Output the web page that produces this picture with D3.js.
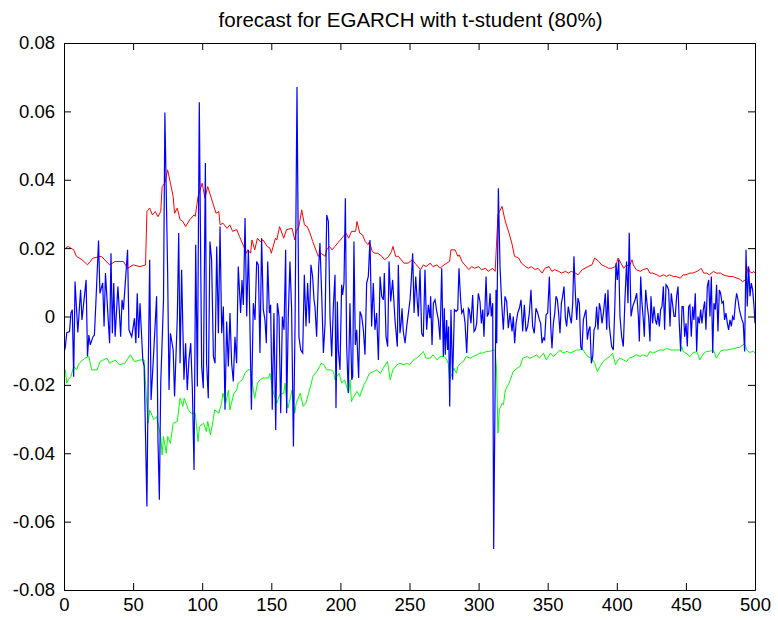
<!DOCTYPE html>
<html><head><meta charset="utf-8">
<script src="https://cdn.jsdelivr.net/npm/d3@7"></script>
<style>body{margin:0;background:#fff}svg{display:block}</style>
</head><body>
<script>
const titleText = "forecast for EGARCH with t-student (80%)";
const xTicks = [0,50,100,150,200,250,300,350,400,450,500];
const yTicks = [-0.08,-0.06,-0.04,-0.02,0,0.02,0.04,0.06,0.08];
const yTickLabels = ["-0.08","-0.06","-0.04","-0.02","0","0.02","0.04","0.06","0.08"];

const upper = [[1,0.0200],[3,0.0205],[7,0.0195],[9,0.0176],[13,0.0166],[17,0.0151],[21,0.0171],[27,0.0176],[33,0.0151],[37,0.0161],[43,0.0161],[46,0.0141],[50,0.0151],[55,0.0146],[59,0.0151],[60,0.0307],[62,0.0317],[64,0.0297],[66,0.0307],[68,0.0292],[70,0.0307],[71,0.0380],[73,0.0390],[75,0.0429],
[77,0.0390],[79,0.0351],[80,0.0302],[82,0.0317],[84,0.0283],[86,0.0278],[88,0.0263],[91,0.0283],[94,0.0297],[95,0.0293],[97,0.0351],[100,0.0390],[102,0.0346],[104,0.0380],[107,0.0341],[110,0.0302],[112,0.0307],[113,0.0268],[115,0.0273],[118,0.0258],[120,0.0268],[122,0.0249],[125,0.0254],[127,0.0234],[130,0.0205],[132,0.0185],[133,0.0195],[135,0.0185],[136,0.0224],[138,0.0195],[140,0.0229],[142,0.0219],[144,0.0224],[147,0.0205],[149,0.0200],[150,0.0185],[153,0.0229],[154,0.0224],
[156,0.0263],[159,0.0229],[161,0.0254],[165,0.0258],[167,0.0224],[168,0.0249],[170,0.0263],[172,0.0312],[174,0.0268],[176,0.0263],[178,0.0244],[180,0.0219],[184,0.0176],[186,0.0185],[189,0.0176],[190,0.0195],[192,0.0205],[194,0.0195],[196,0.0205],[200,0.0224],[202,0.0234],[204,0.0244],[206,0.0229],[208,0.0249],[211,0.0249],[212,0.0278],[214,0.0244],[216,0.0239],[218,0.0219],[220,0.0210],[221,0.0219],[223,0.0190],[225,0.0185],[227,0.0185],[230,0.0176],[232,0.0166],[235,0.0176],
[237,0.0190],[238,0.0205],[240,0.0176],[242,0.0176],[246,0.0156],[249,0.0156],[252,0.0166],[254,0.0156],[258,0.0137],[260,0.0151],[262,0.0146],[265,0.0156],[267,0.0146],[270,0.0151],[272,0.0141],[275,0.0151],[277,0.0156],[279,0.0161],[280,0.0195],[283,0.0195],[285,0.0176],[286,0.0180],[288,0.0161],[290,0.0151],[293,0.0137],[295,0.0146],[297,0.0141],[300,0.0146],[302,0.0137],[305,0.0141],[307,0.0132],[310,0.0141],[312,0.0132],[314,0.0297],[315,0.0307],
[317,0.0322],[319,0.0283],[322,0.0244],[324,0.0215],[326,0.0176],[329,0.0171],[331,0.0156],[334,0.0146],[336,0.0141],[338,0.0146],[341,0.0137],[343,0.0141],[346,0.0127],[348,0.0141],[351,0.0146],[353,0.0132],[355,0.0137],[358,0.0132],[360,0.0127],[363,0.0132],[365,0.0127],[367,0.0132],[370,0.0127],[372,0.0122],[375,0.0137],[377,0.0141],[379,0.0146],[382,0.0151],[384,0.0171],[387,0.0161],[389,0.0151],[392,0.0146],[394,0.0141],[396,0.0141],[399,0.0146],[401,0.0171],
[403,0.0156],[405,0.0141],[407,0.0151],[409,0.0146],[411,0.0166],[412,0.0151],[414,0.0137],[417,0.0132],[419,0.0137],[422,0.0141],[424,0.0127],[426,0.0127],[429,0.0122],[431,0.0117],[434,0.0122],[436,0.0117],[438,0.0122],[441,0.0117],[443,0.0117],[446,0.0112],[448,0.0122],[450,0.0122],[453,0.0127],[455,0.0127],[458,0.0132],[460,0.0137],[461,0.0141],[463,0.0127],[465,0.0127],[467,0.0122],[470,0.0132],[472,0.0127],[475,0.0127],[477,0.0122],[479,0.0119],[482,0.0117],[484,0.0117],[487,0.0112],[489,0.0109],[491,0.0102],[493,0.0107],[494,0.0122],[495,0.0146],[496,0.0132],[498,0.0127],[499,0.0132],[500,0.0127]];

const lower = [[1,-0.0156],[2,-0.0195],[3,-0.0185],[5,-0.0176],[7,-0.0146],[9,-0.0156],[11,-0.0137],[15,-0.0122],[18,-0.0117],[20,-0.0156],[24,-0.0156],[26,-0.0132],[31,-0.0122],[33,-0.0137],[37,-0.0127],[40,-0.0141],[44,-0.0137],[48,-0.0112],[51,-0.0132],[55,-0.0127],[58,-0.0127],[60,-0.0263],[61,-0.0312],[62,-0.0273],[65,-0.0302],[67,-0.0293],[70,-0.0351],[71,-0.0405],[72,-0.0351],[74,-0.0400],[75,-0.0351],
[77,-0.0371],[79,-0.0312],[82,-0.0307],[84,-0.0239],[86,-0.0263],[87,-0.0239],[90,-0.0273],[92,-0.0283],[95,-0.0283],[97,-0.0366],[98,-0.0322],[101,-0.0312],[103,-0.0336],[104,-0.0307],[106,-0.0346],[108,-0.0302],[109,-0.0273],[112,-0.0283],[114,-0.0254],[115,-0.0224],[117,-0.0254],[119,-0.0215],[120,-0.0273],[123,-0.0224],[125,-0.0215],[126,-0.0195],[129,-0.0185],[131,-0.0166],[133,-0.0156],[135,-0.0156],[137,-0.0215],[138,-0.0239],[140,-0.0195],[142,-0.0185],[144,-0.0180],[148,-0.0180],[149,-0.0166],[151,-0.0215],[154,-0.0254],
[156,-0.0229],[159,-0.0224],[160,-0.0195],[161,-0.0244],[162,-0.0268],[164,-0.0234],[165,-0.0215],[167,-0.0283],[168,-0.0254],[170,-0.0234],[171,-0.0224],[173,-0.0263],[175,-0.0254],[177,-0.0224],[179,-0.0195],[180,-0.0176],[183,-0.0161],[185,-0.0146],[186,-0.0137],[188,-0.0141],[190,-0.0156],[193,-0.0156],[195,-0.0161],[196,-0.0185],[199,-0.0166],[201,-0.0195],[203,-0.0185],[206,-0.0224],[207,-0.0185],[208,-0.0249],[209,-0.0239],[212,-0.0219],[214,-0.0234],[217,-0.0200],[219,-0.0185],[221,-0.0166],[224,-0.0161],[226,-0.0156],[229,-0.0166],[231,-0.0151],[234,-0.0132],[235,-0.0156],
[236,-0.0185],[238,-0.0156],[241,-0.0141],[243,-0.0137],[246,-0.0141],[248,-0.0137],[250,-0.0141],[253,-0.0127],[255,-0.0122],[258,-0.0112],[260,-0.0102],[262,-0.0122],[265,-0.0122],[267,-0.0112],[270,-0.0127],[272,-0.0117],[275,-0.0117],[277,-0.0127],[278,-0.0137],[279,-0.0185],[281,-0.0166],[282,-0.0151],[284,-0.0166],[285,-0.0146],[287,-0.0137],[289,-0.0132],[291,-0.0117],[294,-0.0122],[296,-0.0117],[299,-0.0112],[301,-0.0107],[303,-0.0107],[306,-0.0102],[308,-0.0102],[311,-0.0098],[312,-0.0098],[313,-0.0156],[314,-0.0341],[315,-0.0273],[317,-0.0254],[318,-0.0258],[319,-0.0224],[320,-0.0210],[322,-0.0195],
[323,-0.0185],[325,-0.0161],[328,-0.0151],[330,-0.0146],[332,-0.0122],[335,-0.0117],[337,-0.0122],[340,-0.0117],[342,-0.0112],[344,-0.0122],[347,-0.0107],[349,-0.0127],[352,-0.0107],[354,-0.0117],[357,-0.0107],[359,-0.0098],[361,-0.0107],[364,-0.0102],[366,-0.0107],[369,-0.0102],[371,-0.0098],[373,-0.0098],[375,-0.0093],[377,-0.0107],[379,-0.0117],[382,-0.0122],[384,-0.0137],[386,-0.0161],[388,-0.0146],[390,-0.0132],[393,-0.0122],[395,-0.0117],[397,-0.0107],[399,-0.0141],[401,-0.0127],
[402,-0.0122],[405,-0.0127],[407,-0.0132],[409,-0.0122],[412,-0.0117],[414,-0.0112],[417,-0.0117],[419,-0.0112],[422,-0.0117],[424,-0.0102],[426,-0.0107],[429,-0.0102],[431,-0.0098],[434,-0.0098],[436,-0.0093],[439,-0.0098],[441,-0.0098],[443,-0.0098],[446,-0.0098],[447,-0.0088],[448,-0.0102],[450,-0.0107],[453,-0.0117],[455,-0.0107],[458,-0.0102],[460,-0.0127],[463,-0.0107],[465,-0.0102],[467,-0.0102],[470,-0.0098],[472,-0.0122],[475,-0.0102],[477,-0.0098],[480,-0.0098],[482,-0.0096],[484,-0.0095],[487,-0.0091],[489,-0.0090],[492,-0.0081],[493,-0.0083],[494,-0.0098],[496,-0.0105],[499,-0.0102],[500,-0.0107]];

const returns = [[0.5,-0.0098],[1,-0.0088],[2,-0.0047],[4,-0.0044],[5,0.0010],[6,0.0020],[7,-0.0176],[8,0.0102],[10,-0.0047],[12,0.0078],[13,-0.0010],[16,0.0107],[17,-0.0117],[18,-0.0054],[19,-0.0083],[21,-0.0059],[22,-0.0054],[23,0.0034],[25,0.0222],[26,0.0068],[27,0.0083],[28,0.0098],[29,-0.0029],[30,0.0127],[33,-0.0078],[34,0.0185],[35,-0.0049],[36,0.0098],[37,-0.0059],[39,0.0088],[40,0.0020],[41,-0.0059],[42,0.0049],[43,0.0020],[46,0.0195],[47,-0.0039],[49,-0.0059],[51,-0.0005],[52,-0.0078],[53,0.0068],[54,-0.0063],[55,0.0039],[57,-0.0127],[58,-0.0146],[60,-0.0556],[61,-0.0146],[62,0.0166],[63,-0.0244],[65,-0.0098],[67,0.0059],[68,-0.0361],[69,-0.0536],[70,-0.0195],[72,0.0049],[73,0.0597],[75,0.0127],[76,-0.0215],[77,-0.0049],[79,-0.0098],[80,-0.0234],[82,0.0000],[83,0.0244],[84,-0.0137],
[85.1,0.0137],[86.8,-0.0185],[88,-0.0078],[89.2,-0.0215],[90.4,-0.0127],[91.7,-0.0078],[92.9,-0.0215],[94.1,-0.0449],[95.3,0.0210],[96.5,-0.0205],[97.9,0.0627],[99.6,-0.0146],[100.8,-0.0210],[102.3,0.0449],[103.2,-0.0137],[104.4,-0.0239],[105.6,0.0219],[106.8,0.0166],[108.1,-0.0117],[109.3,-0.0137],[110.5,0.0205],[111.7,-0.0049],[112.9,0.0263],[114.1,-0.0049],[115.3,0.0029],[116.5,-0.0273],[117.7,-0.0015],[118.9,-0.0146],[120.1,0.0010],[121.3,-0.0137],[122.5,-0.0190],[123.7,-0.0059],[124.9,-0.0137],[126.1,0.0146],[127.8,0.0010],[128.8,0.0107],[129.8,0.0034],[131,0.0288],[132.2,0.0000],[133.4,0.0195],[134.1,0.0078],[135.6,-0.0273],[137,0.0039],[138.2,-0.0010],[139.4,0.0161],[140.6,0.0151],[141.8,-0.0107],[143,0.0229],[144.2,0.0020],[145.4,-0.0010],[146.4,-0.0078],[147.4,0.0161],[148.6,0.0010],[149.5,0.0034],[150.7,-0.0273],[151.9,0.0010],[153.2,-0.0332],[154.4,0.0039],[155.6,0.0000],[156.8,-0.0283],[158,0.0000],[159.2,-0.0039],[160.4,0.0195],[161.1,-0.0283],[162.3,0.0000],[163.5,0.0161],
[164.7,0.0020],[166,-0.0380],[167.2,-0.0020],[168.6,0.0671],[170,-0.0059],[171.3,-0.0098],[172.7,-0.0107],[173.9,0.0122],[175.1,-0.0029],[176.3,0.0098],[177.5,-0.0020],[178.7,0.0151],[179.9,0.0117],[180.9,0.0049],[181.6,0.0029],[182.8,-0.0059],[184.3,0.0146],[185.2,0.0215],[186.5,0.0059],[187.7,-0.0107],[188.9,-0.0020],[190.1,0.0297],[191.3,0.0278],[192.5,0.0000],[193.7,-0.0117],[194.9,0.0029],[196.1,0.0122],[196.8,-0.0268],[197.8,0.0044],[198.5,-0.0098],[199.7,-0.0156],[200.9,0.0093],[201.6,0.0063],[202.6,0.0098],[203.6,0.0346],[204.5,-0.0083],[205.7,-0.0224],[206.9,0.0039],[208.2,-0.0185],[208.9,-0.0176],[209.8,0.0219],[210.8,-0.0083],[211.8,-0.0039],[212.5,-0.0112],[213.2,-0.0180],[214.2,0.0015],[215.4,0.0000],[216.6,-0.0039],[217.8,-0.0112],[219,0.0098],[220.2,0.0117],[221.4,0.0224],[222.6,-0.0029],[223.8,0.0098],[225,-0.0039],[226.2,0.0010],[227.5,-0.0127],[228.7,0.0117],[229.9,0.0059],[231.1,0.0049],[231.8,0.0127],[233,-0.0059],[234.2,-0.0088],[235.2,0.0161],[236.4,0.0044],[237.8,0.0107],[239.5,-0.0010],[241.2,-0.0088],[241.9,0.0151],[243.1,-0.0049],
[243.9,-0.0020],[244.6,0.0024],[245.5,-0.0044],[246.8,-0.0078],[248,-0.0029],[249.2,0.0010],[250.4,0.0049],[251.3,0.0107],[252.3,0.0185],[253.3,0.0010],[254.5,0.0117],[255.7,0.0039],[256.4,0.0000],[257.6,0.0137],[258.8,-0.0049],[260,-0.0059],[261.2,0.0137],[262.4,-0.0039],[263.6,0.0034],[264.8,-0.0005],[265.3,0.0059],[266.3,-0.0083],[267.3,0.0039],[268.5,0.0049],[269.7,0.0015],[270.9,-0.0010],[272.1,-0.0068],[273.3,0.0141],[274.5,-0.0117],[275.2,0.0024],[275.9,-0.0112],[276.9,-0.0010],[277.6,-0.0098],[278.3,-0.0029],[279.1,-0.0263],[280,0.0020],[281.2,-0.0185],[282.5,0.0020],[283.7,0.0015],[284.9,0.0020],[285.8,0.0141],[287,0.0049],[287.8,0.0010],[289,0.0020],[290.2,-0.0020],[291.4,-0.0107],[292.6,0.0024],[293.3,0.0020],[294.5,-0.0020],[295.7,0.0063],[296.7,-0.0044],[297.6,-0.0039],[298.6,-0.0020],[299.8,0.0068],[301,0.0044],[302,-0.0020],[303,0.0020],[303.9,-0.0059],[305.4,0.0117],[306.3,0.0000],[307.3,0.0010],[308.3,0.0068],[309.2,0.0000],[310.2,0.0039],[310.9,-0.0680],[312.6,0.0078],[313.1,-0.0078],[314.3,0.0375],[315.5,0.0146],[316.7,0.0039],[317.9,-0.0039],[319.1,0.0059],[320.3,0.0044],[321.5,-0.0034],[322.7,0.0010],
[324.2,-0.0044],[325.1,0.0000],[326.1,-0.0078],[327.1,-0.0020],[328.3,0.0010],[329.5,0.0024],[330.7,0.0049],[331.9,-0.0044],[333.1,0.0034],[334.3,-0.0044],[335.5,-0.0029],[336.7,0.0010],[337.9,0.0078],[339.1,-0.0029],[340.3,-0.0049],[341.5,0.0024],[342.8,0.0010],[344,-0.0010],[344.9,-0.0020],[345.9,-0.0078],[346.9,-0.0063],[347.8,-0.0068],[348.8,0.0005],[350,0.0010],[351.2,0.0117],[352.2,-0.0029],[353.1,-0.0093],[354.1,-0.0020],[355.1,0.0010],[356,0.0059],[357,0.0049],[357.9,0.0010],[358.9,-0.0049],[359.9,0.0039],[360.8,0.0059],[361.8,0.0088],[362.8,-0.0005],[363.7,-0.0029],[364.9,0.0029],[366.1,0.0000],[367.1,-0.0020],[368.1,0.0039],[369,0.0176],[370,0.0068],[371,-0.0010],[371.9,0.0054],[372.9,0.0039],[373.9,-0.0088],[374.8,-0.0098],[375.8,-0.0010],[377,0.0010],[377.7,0.0020],[378.7,-0.0068],[379.7,-0.0039],[380.6,-0.0029],[381.6,-0.0137],[382.6,-0.0117],[383.5,-0.0039],[384.5,-0.0029],[385.4,0.0029],[386.4,-0.0039],[387.4,0.0039],[388.3,0.0020],[389.3,-0.0020],[390.3,0.0010],[391.7,0.0068],[392.7,-0.0039],[393.6,0.0078],[394.6,-0.0029],[396.3,-0.0088],[397.5,-0.0098],[398.5,0.0020],[399.4,0.0156],[400.4,0.0107],[401.4,0.0166],[402.3,0.0000],
[403.5,-0.0059],[404.7,-0.0088],[405.9,0.0049],[407.1,0.0161],[408.1,0.0039],[409,0.0245],[410.3,0.0000],[411.5,0.0029],[413.2,0.0049],[414.4,0.0068],[415.6,0.0000],[416.3,-0.0073],[417.3,0.0117],[418.2,0.0039],[419.2,-0.0010],[419.9,-0.0059],[420.9,0.0078],[422.1,0.0029],[423,0.0000],[424,-0.0073],[424.7,0.0059],[425.9,-0.0020],[426.9,0.0029],[427.9,-0.0010],[428.8,-0.0024],[429.8,0.0010],[430.8,-0.0029],[431.7,0.0020],[432.7,0.0029],[433.7,0.0088],[434.6,-0.0039],[435.6,0.0093],[436.5,0.0088],[437.5,0.0078],[438.5,-0.0029],[439.4,0.0068],[440.4,0.0034],[441.4,0.0000],[442.3,0.0000],[443.3,0.0059],[444.3,0.0088],[445.2,-0.0020],[446.2,-0.0102],[447.2,0.0029],[448.1,0.0029],[449.1,-0.0059],[450.1,-0.0020],[451,-0.0088],[452,0.0029],[452.9,0.0034],[453.9,-0.0059],[454.9,0.0029],[455.8,-0.0010],[456.8,0.0068],[457.8,-0.0102],[458.7,0.0000],[459.7,-0.0020],[460.7,0.0020],[461.6,-0.0020],[462.6,0.0020],[463.6,0.0044],[464.5,-0.0039],[465.5,0.0088],[466.5,0.0107],[467.4,0.0000],[468.4,0.0117],[469.4,-0.0107],[470.3,0.0039],[471.3,0.0020],[472.2,0.0093],[473.2,-0.0044],[474.2,0.0078],[475.1,0.0068],[476.1,0.0039],[477.1,0.0044],[478,-0.0010],[479,0.0010],[480,-0.0020],[480.9,-0.0039],[481.9,-0.0010],[482.9,-0.0029],[483.8,0.0000],[484.8,-0.0010],[485.8,0.0039],[486.7,0.0068],[487.7,0.0049],[488.7,0.0020],[489.6,0.0005],[490.6,-0.0010],[491.5,-0.0020],[492.5,-0.0102],[493.5,0.0195],[494.4,0.0029],[495.4,0.0146],[496.4,0.0059],[497.3,0.0098],[498.3,0.0078],[499.3,0.0029],[500,-0.0020]];

const W = 778, H = 620;
const m = {left:64, top:43, right:23, bottom:30};
const iw = W - m.left - m.right, ih = H - m.top - m.bottom;
const FONT = "'Liberation Sans', Arial, Helvetica, sans-serif";

const svg = d3.select("body").append("svg").attr("width", W).attr("height", H)
  .style("font-family", FONT);
svg.append("rect").attr("width", W).attr("height", H).attr("fill", "#fff");

const x = d3.scaleLinear().domain([0, 500]).range([0, iw]);
const y = d3.scaleLinear().domain([-0.08, 0.08]).range([ih, 0]);

const g = svg.append("g").attr("transform", `translate(${m.left},${m.top})`);
g.append("clipPath").attr("id", "clip").append("rect").attr("width", iw).attr("height", ih);

const line = d3.line().x(d => x(d[0])).y(d => y(d[1]));
const plot = g.append("g").attr("clip-path", "url(#clip)");
plot.append("path").datum(upper).attr("d", line).attr("fill", "none").attr("stroke", "#ff0000").attr("stroke-width", 1);
plot.append("path").datum(lower).attr("d", line).attr("fill", "none").attr("stroke", "#00ff00").attr("stroke-width", 1);
plot.append("path").datum(returns).attr("d", line).attr("fill", "none").attr("stroke", "#0000ff").attr("stroke-width", 1.2);

const tl = 7;
const fs = "18.5px";
const xb = g.append("g").attr("transform", `translate(0,${ih})`)
  .call(d3.axisBottom(x).tickValues(xTicks).tickSizeInner(-tl).tickSizeOuter(0).tickPadding(8));
const xt = g.append("g").call(d3.axisTop(x).tickValues(xTicks).tickSizeInner(-tl).tickSizeOuter(0).tickFormat(""));
const yl = g.append("g").call(d3.axisLeft(y).tickValues(yTicks).tickSizeInner(-tl).tickSizeOuter(0).tickPadding(9)
  .tickFormat((d,i) => yTickLabels[i]));
const yr = g.append("g").attr("transform", `translate(${iw},0)`)
  .call(d3.axisRight(y).tickValues(yTicks).tickSizeInner(-tl).tickSizeOuter(0).tickFormat(""));

[xb, xt, yl, yr].forEach(a => {
  a.select(".domain").attr("stroke", "#000").attr("stroke-width", 1);
  a.selectAll(".tick line").attr("stroke", "#000");
  a.selectAll("text").attr("fill", "#000").style("font-size", fs).style("font-family", FONT);
});

svg.append("text").attr("x", m.left + iw/2 + 1).attr("y", 27).attr("text-anchor", "middle")
  .style("font-size", "20.5px").attr("fill", "#000").text(titleText);
</script>
</body></html>
